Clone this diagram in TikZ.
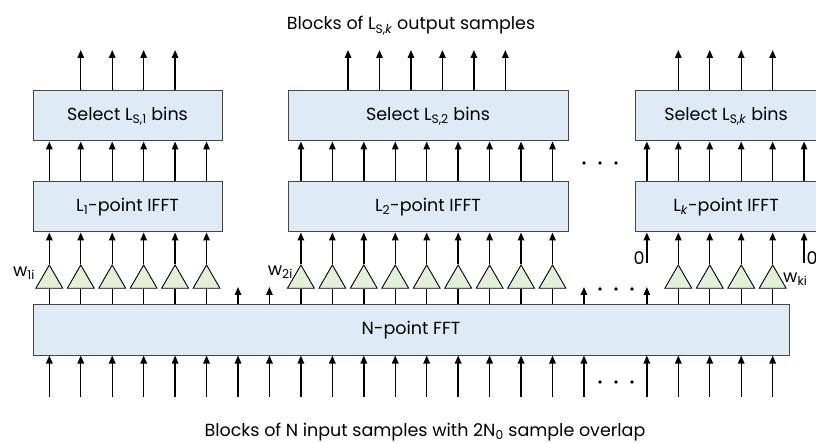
\documentclass[tikz,border=0pt]{standalone}
\usepackage{fontspec}
\setmainfont{Poppins}
\usetikzlibrary{shapes.geometric,arrows.meta,calc}
\definecolor{boxfill}{RGB}{222,235,247}
\definecolor{trifill}{RGB}{226,240,217}
\definecolor{boxline}{RGB}{70,70,70}
\begin{document}
\begin{tikzpicture}[x=1pt,y=-1pt,
  txt/.style={font=\fontsize{17.5}{20}\selectfont},
  blk/.style={txt, draw=boxline, fill=boxfill, line width=1pt, minimum height=50pt, inner sep=0pt},
  amp/.style={draw=black, fill=trifill, line width=0.9pt, regular polygon, regular polygon sides=3, minimum size=31pt, inner sep=0pt},
  arr/.style={line width=1.4pt, -{Triangle[length=8pt,width=6.5pt]}},
  wire/.style={line width=1.4pt},
  lbl/.style={txt, inner sep=0pt},
  dotn/.style={circle, fill=black, inner sep=0pt, minimum size=3.6pt}]
\clip (0,0) rectangle (816,443);
% column coordinates
\foreach \i in {0,...,24} {\coordinate (c\i) at ({49.3+31.45*\i},0);}
\foreach \j in {0,...,5} {\coordinate (h\j) at ({49.3+31.45*(9.5+\j)},0);}
\coordinate (otop) at (0,50);
\coordinate (stub) at (0,287);
\coordinate (zin) at (0,263);
\coordinate (inbot) at (0,397);
% boxes
\node[blk, minimum width=189pt] (sel1) at (127.5,116) {Select L\textsubscript{S,1} bins};
\node[blk, minimum width=280pt] (sel2) at (428,116) {Select L\textsubscript{S,2} bins};
\node[blk, minimum width=182pt] (selk) at (726,116) {Select L\textsubscript{S,\textit{k}} bins};
\node[blk, minimum width=189pt] (ifft1) at (127.5,207) {L\textsubscript{1}-point IFFT};
\node[blk, minimum width=280pt] (ifft2) at (428,207) {L\textsubscript{2}-point IFFT};
\node[blk, minimum width=182pt] (ifftk) at (726,207) {L\textsubscript{\textit{k}}-point IFFT};
\node[blk, minimum width=756pt] (fft) at (411,330) {N-point FFT};
% captions
\node[lbl, anchor=base] (capt) at (411,30) {Blocks of L\textsubscript{S,\textit{k}} output samples};
\node[lbl, anchor=base] (capb) at (425,436.5) {Blocks of N input samples with 2N\textsubscript{0} sample overlap};
% output arrows
\foreach \i in {1,...,4} {\draw[arr] (c\i |- sel1.north) -- (c\i |- otop);}
\foreach \j in {0,...,5} {\draw[arr] (h\j |- sel2.north) -- (h\j |- otop);}
\foreach \i in {20,...,23} {\draw[arr] (c\i |- selk.north) -- (c\i |- otop);}
% IFFT to select
\foreach \i in {0,...,5} {\draw[arr] (c\i |- ifft1.north) -- (c\i |- sel1.south);}
\foreach \i in {8,...,16} {\draw[arr] (c\i |- ifft2.north) -- (c\i |- sel2.south);}
\foreach \i in {19,...,24} {\draw[arr] (c\i |- ifftk.north) -- (c\i |- selk.south);}
% weighting triangles
\foreach \i in {0,...,5,8,9,...,16,20,21,22,23} {
  \node[amp] (t\i) at ($(c\i)+(0,280.5)$) {};
}
\foreach \i in {0,...,5} {
  \draw[wire] (c\i |- fft.north) -- (t\i.south);
  \draw[arr] (t\i.north) -- (c\i |- ifft1.south);
}
\foreach \i in {8,...,16} {
  \draw[wire] (c\i |- fft.north) -- (t\i.south);
  \draw[arr] (t\i.north) -- (c\i |- ifft2.south);
}
\foreach \i in {20,...,23} {
  \draw[wire] (c\i |- fft.north) -- (t\i.south);
  \draw[arr] (t\i.north) -- (c\i |- ifftk.south);
}
% unused FFT outputs
\foreach \i in {6,7,17,19} {\draw[arr] (c\i |- fft.north) -- (c\i |- stub);}
% zero inputs
\draw[arr] (c19 |- zin) -- (c19 |- ifftk.south);
\draw[arr] (c24 |- zin) -- (c24 |- ifftk.south);
\node[lbl] (z1) at (639,258) {0};
\node[lbl] (z2) at (812,258) {0};
% weight labels
\node[lbl, anchor=east] (w1) at (35,273) {w\textsubscript{1i}};
\node[lbl, anchor=east] (w2) at (293,272) {w\textsubscript{2i}};
\node[lbl, anchor=west] (wk) at (783,279) {w\textsubscript{ki}};
% input arrows
\foreach \i in {0,...,17,19,20,...,23} {\draw[arr] (c\i |- inbot) -- (c\i |- fft.south);}
% dots
\foreach \x [count=\n] in {584,600,616} {\node[dotn] (da\n) at (\x,163) {};}
\foreach \x [count=\n] in {600,616,632} {\node[dotn] (db\n) at (\x,289) {};}
\foreach \x [count=\n] in {600,616,632} {\node[dotn] (dc\n) at (\x,382) {};}
\end{tikzpicture}
\end{document}
